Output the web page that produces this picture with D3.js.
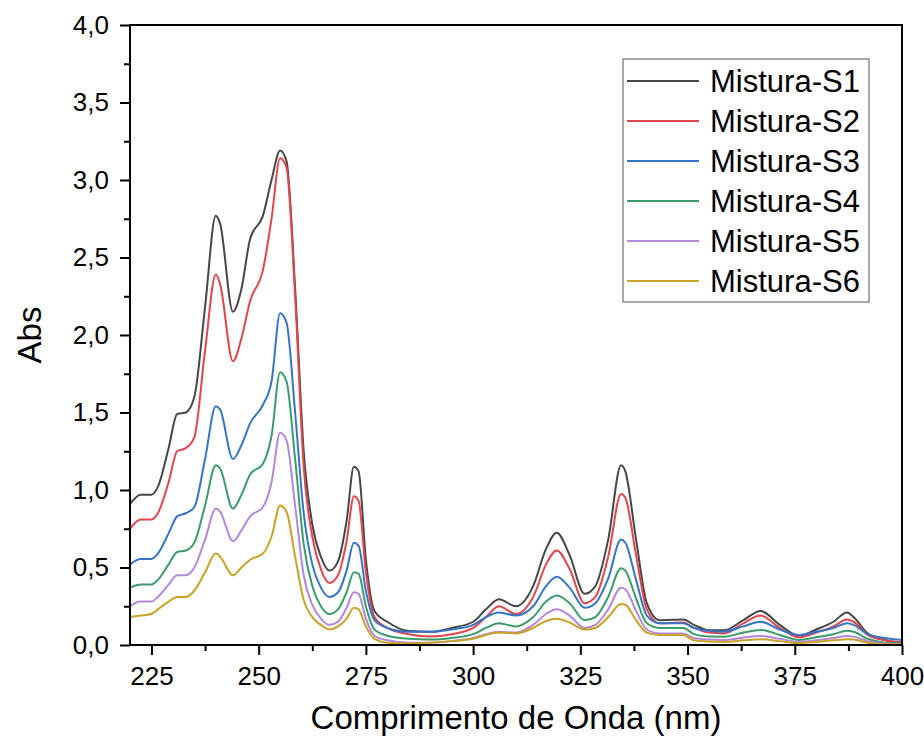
<!DOCTYPE html>
<html>
<head>
<meta charset="utf-8">
<script src="https://cdn.jsdelivr.net/npm/d3@7"></script>
<style>
    body { margin: 0; background: #fff; }
    svg { display: block; font-family: "Liberation Sans", Arial, sans-serif; }
    .axis path, .axis line { stroke: #000; }
    .axis text { font-size: 26px; fill: #000; }
    .series { fill: none; stroke-width: 2; stroke-linejoin: round; }
</style>
</head>
<body>
<svg id="chart" width="924" height="742"></svg>
<script>
var wavelengths = [220, 222.5, 225, 226.5, 229, 231, 233, 235, 237.5, 240, 241, 244, 246, 248, 251, 253, 255, 256.5,
    258.5, 260.5, 262.5, 264.5, 266.5, 268.5, 270.5, 272.2, 273.3, 275, 277, 280, 285, 290, 295, 300, 303, 306, 310,
    314, 317, 319.5, 322.5, 326, 328.5, 331.5, 334.5, 335.5, 338, 340.5, 343.5, 349, 351.5, 355, 358.5, 363, 367,
    371.5, 376, 380, 384, 387.2, 388.7, 392, 396, 400];

var names = ["Mistura-S1", "Mistura-S2", "Mistura-S3", "Mistura-S4", "Mistura-S5", "Mistura-S6"];
var colors = ["#474747", "#e0464b", "#3674c4", "#3b9b6a", "#b387d9", "#c9a227"];

var s1 = [0.91, 0.97, 0.97, 1.02, 1.27, 1.49, 1.50, 1.60, 2.18, 2.77, 2.72, 2.15, 2.30, 2.62, 2.77, 3.00, 3.19, 3.12,
    2.30, 1.25, 0.78, 0.57, 0.48, 0.54, 0.80, 1.15, 1.12, 0.55, 0.22, 0.15, 0.09, 0.085, 0.11, 0.15, 0.23, 0.295, 0.25,
    0.38, 0.62, 0.725, 0.58, 0.33, 0.38, 0.68, 1.16, 1.12, 0.68, 0.27, 0.16, 0.165, 0.13, 0.095, 0.095, 0.16, 0.22,
    0.13, 0.06, 0.10, 0.15, 0.21, 0.18, 0.075, 0.032, 0.015];
var s2 = [0.75, 0.81, 0.81, 0.85, 1.05, 1.25, 1.27, 1.34, 1.90, 2.39, 2.33, 1.83, 1.98, 2.22, 2.42, 2.75, 3.14, 3.08,
    2.25, 1.15, 0.70, 0.49, 0.40, 0.45, 0.67, 0.96, 0.93, 0.47, 0.18, 0.11, 0.07, 0.055, 0.07, 0.11, 0.18, 0.25, 0.20,
    0.31, 0.52, 0.61, 0.49, 0.27, 0.31, 0.57, 0.975, 0.95, 0.58, 0.23, 0.14, 0.145, 0.11, 0.08, 0.075, 0.14, 0.19,
    0.11, 0.05, 0.08, 0.12, 0.165, 0.15, 0.065, 0.03, 0.015];
var s3 = [0.52, 0.555, 0.555, 0.59, 0.72, 0.83, 0.85, 0.89, 1.20, 1.54, 1.52, 1.20, 1.29, 1.43, 1.55, 1.70, 2.14, 2.08,
    1.50, 0.85, 0.52, 0.37, 0.31, 0.34, 0.48, 0.66, 0.64, 0.35, 0.16, 0.11, 0.085, 0.085, 0.10, 0.13, 0.18, 0.21, 0.19,
    0.25, 0.38, 0.44, 0.37, 0.24, 0.27, 0.43, 0.68, 0.66, 0.42, 0.19, 0.14, 0.14, 0.11, 0.09, 0.086, 0.12, 0.15,
    0.10, 0.065, 0.085, 0.11, 0.14, 0.13, 0.07, 0.045, 0.032];
var s4 = [0.37, 0.39, 0.39, 0.42, 0.52, 0.60, 0.61, 0.66, 0.90, 1.16, 1.14, 0.88, 0.97, 1.10, 1.17, 1.35, 1.76, 1.70,
    1.20, 0.65, 0.38, 0.25, 0.20, 0.23, 0.34, 0.47, 0.46, 0.25, 0.10, 0.06, 0.04, 0.035, 0.045, 0.07, 0.11, 0.14, 0.12,
    0.18, 0.28, 0.32, 0.27, 0.16, 0.18, 0.31, 0.495, 0.48, 0.30, 0.14, 0.11, 0.11, 0.07, 0.055, 0.054, 0.08, 0.097,
    0.065, 0.032, 0.05, 0.07, 0.092, 0.085, 0.04, 0.015, 0.01];
var s5 = [0.25, 0.28, 0.28, 0.31, 0.39, 0.45, 0.45, 0.50, 0.68, 0.88, 0.86, 0.67, 0.74, 0.83, 0.89, 1.05, 1.37, 1.32,
    0.90, 0.45, 0.26, 0.17, 0.13, 0.15, 0.24, 0.34, 0.33, 0.17, 0.06, 0.03, 0.015, 0.015, 0.025, 0.045, 0.07, 0.086, 0.08,
    0.13, 0.20, 0.23, 0.19, 0.11, 0.13, 0.23, 0.37, 0.36, 0.22, 0.10, 0.075, 0.075, 0.045, 0.035, 0.032, 0.048, 0.058,
    0.04, 0.02, 0.03, 0.045, 0.058, 0.054, 0.025, 0.01, 0.005];
var s6 = [0.18, 0.19, 0.20, 0.23, 0.28, 0.31, 0.31, 0.35, 0.47, 0.59, 0.57, 0.45, 0.50, 0.55, 0.59, 0.70, 0.90, 0.86,
    0.57, 0.29, 0.18, 0.13, 0.10, 0.12, 0.17, 0.24, 0.23, 0.12, 0.04, 0.015, 0.01, 0.015, 0.025, 0.04, 0.065, 0.08, 0.075,
    0.11, 0.155, 0.17, 0.145, 0.10, 0.11, 0.18, 0.265, 0.26, 0.16, 0.08, 0.065, 0.065, 0.03, 0.022, 0.02, 0.03, 0.037,
    0.025, 0.012, 0.02, 0.03, 0.037, 0.035, 0.015, 0.005, 0.003];

var xTicks = [225, 250, 275, 300, 325, 350, 375, 400];
var xMinor = [237.5, 262.5, 287.5, 312.5, 337.5, 362.5, 387.5];
var yTicks = [0, 0.5, 1, 1.5, 2, 2.5, 3, 3.5, 4];
var yMinor = [0.25, 0.75, 1.25, 1.75, 2.25, 2.75, 3.25, 3.75];

var seriesValues = [s1, s2, s3, s4, s5, s6];

var svg = d3.select("#chart"),
    margin = { top: 25, right: 22, bottom: 97, left: 130 },
    width = 924 - margin.left - margin.right,
    height = 742 - margin.top - margin.bottom;

var g = svg.append("g").attr("transform", "translate(" + margin.left + "," + margin.top + ")");

var x = d3.scaleLinear().domain([220, 400]).range([0, width]);
var y = d3.scaleLinear().domain([0, 4]).range([height, 0]);

var comma = d3.formatLocale({ decimal: ",", thousands: ".", grouping: [3], currency: ["", ""] }).format(".1f");

function thick(a) {
    a.select(".domain").remove();
    a.selectAll("line").attr("stroke-width", 2);
}

// minor ticks first, major on top
g.append("g")
    .attr("class", "axis")
    .attr("transform", "translate(0," + height + ")")
    .call(d3.axisBottom(x).tickValues(xMinor).tickSize(6).tickFormat(""))
    .call(thick);

g.append("g")
    .attr("class", "axis")
    .call(d3.axisLeft(y).tickValues(yMinor).tickSize(6).tickFormat(""))
    .call(thick);

g.append("g")
    .attr("class", "axis")
    .attr("transform", "translate(0," + height + ")")
    .call(d3.axisBottom(x).tickValues(xTicks).tickSize(10).tickPadding(12).tickFormat(d3.format("d")))
    .call(thick);

g.append("g")
    .attr("class", "axis")
    .call(d3.axisLeft(y).tickValues(yTicks).tickSize(10).tickPadding(11).tickFormat(comma))
    .call(thick);

var line = d3.line()
    .x(function(d) { return x(d[0]); })
    .y(function(d) { return y(d[1]); })
    .curve(d3.curveMonotoneX);

g.append("clipPath").attr("id", "plotclip")
    .append("rect").attr("width", width).attr("height", height);

g.selectAll(".series")
    .data(seriesValues)
    .enter().append("path")
    .attr("class", "series")
    .attr("clip-path", "url(#plotclip)")
    .attr("stroke", function(d, i) { return colors[i]; })
    .attr("d", function(vals) { return line(wavelengths.map(function(w, j) { return [w, vals[j]]; })); });

// frame
g.append("rect")
    .attr("width", width)
    .attr("height", height)
    .attr("fill", "none")
    .attr("stroke", "#000")
    .attr("stroke-width", 2);

// legend
var lg = svg.append("g").attr("transform", "translate(623,59)");
lg.append("rect")
    .attr("width", 246)
    .attr("height", 243)
    .attr("fill", "#fff")
    .attr("stroke", "#555")
    .attr("stroke-width", 1);

var item = lg.selectAll(".item")
    .data(names)
    .enter().append("g")
    .attr("class", "item")
    .attr("transform", function(d, i) { return "translate(0," + (22 + i * 40) + ")"; });

item.append("line")
    .attr("x1", 4).attr("x2", 76)
    .attr("stroke", function(d, i) { return colors[i]; })
    .attr("stroke-width", 2);

item.append("text")
    .attr("x", 87)
    .attr("dy", "0.35em")
    .style("font-size", "31px")
    .text(function(d) { return d; });

// axis titles
svg.append("text")
    .attr("x", margin.left + width / 2)
    .attr("y", 729)
    .attr("text-anchor", "middle")
    .style("font-size", "33px")
    .text("Comprimento de Onda (nm)");

svg.append("text")
    .attr("transform", "translate(41," + (margin.top + height / 2) + ") rotate(-90)")
    .attr("text-anchor", "middle")
    .style("font-size", "33px")
    .text("Abs");
</script>
</body>
</html>
